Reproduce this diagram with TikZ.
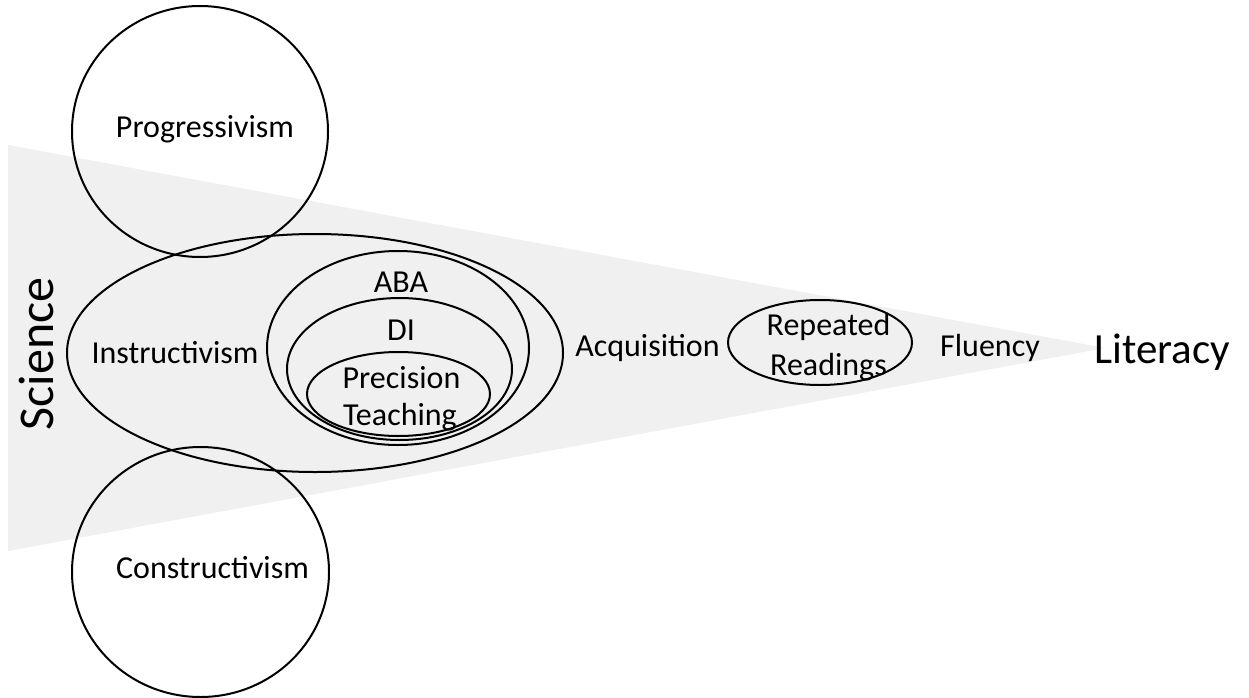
\documentclass[tikz,border=0pt]{standalone}
\usepackage{fontspec}
\setmainfont{Carlito}
\usetikzlibrary{shapes.geometric}
\definecolor{wedge}{RGB}{240,240,240}
\begin{document}
\begin{tikzpicture}[x=1pt,y=-1pt,
  ring/.style={draw=black,line width=2pt,ellipse,inner sep=0pt,fill=none},
  lbl/.style={anchor=base,inner sep=0pt,font=\fontsize{32}{36}\selectfont},
]
\useasboundingbox (0,0) rectangle (1249,698);
% wedge
\coordinate (wa) at (8,145);
\coordinate (wb) at (8,551);
\coordinate (wc) at (1105,348);
\fill[wedge] (wa) -- (wc) -- (wb) -- cycle;
% rings
\node[ring,minimum width=256pt,minimum height=251pt] (prog) at (200,131.5) {};
\node[ring,minimum width=257pt,minimum height=250pt] (cons) at (200.5,572) {};
\node[ring,minimum width=496pt,minimum height=238pt] (instr) at (315,353) {};
\node[ring,minimum width=262pt,minimum height=194pt] (aba) at (398,348) {};
\node[ring,minimum width=225pt,minimum height=142pt] (di) at (399.5,369) {};
\node[ring,minimum width=183pt,minimum height=84pt] (pt) at (398.5,394) {};
\node[ring,minimum width=184pt,minimum height=85pt] (rr) at (820,342.5) {};
% labels
\node[lbl] (tprog) at (205,137) {Progressivism};
\node[lbl] (tcons) at (212.5,578) {Constructivism};
\node[lbl] (tinstr) at (175,363) {Instructivism};
\node[lbl] (taba) at (401,292) {ABA};
\node[lbl] (tdi) at (401,340) {DI};
\node[lbl] (tprec) at (401.5,388) {Precision};
\node[lbl] (tteach) at (400,425) {Teaching};
\node[lbl] (tacq) at (647.5,356) {Acquisition};
\node[lbl] (trep) at (828.5,335) {Repeated};
\node[lbl] (tread) at (828.5,375) {Readings};
\node[lbl] (tflu) at (990,356) {Fluency};
\node[lbl,font=\fontsize{43}{48}\selectfont] (tlit) at (1162,363) {Literacy};
\node[lbl,font=\fontsize{50}{56}\selectfont,rotate=90] (tsci) at (53,354) {Science};
\end{tikzpicture}
\end{document}
